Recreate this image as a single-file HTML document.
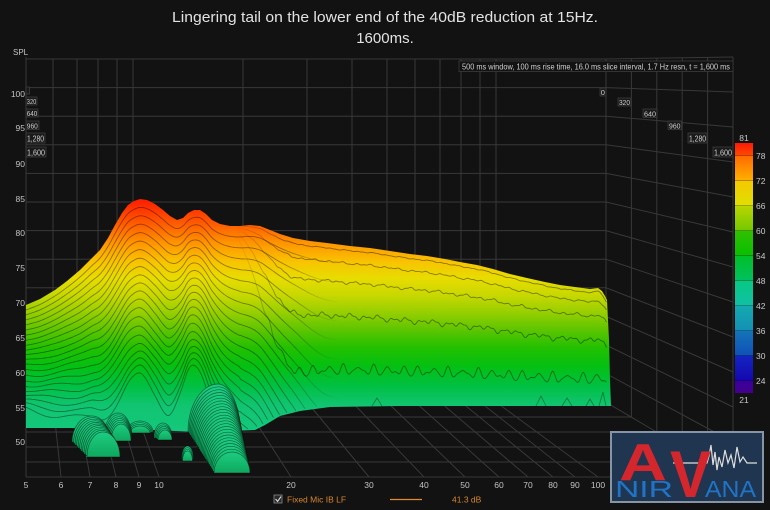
<!DOCTYPE html>
<html><head><meta charset="utf-8"><style>
html,body{margin:0;padding:0;background:#121212;}
svg{display:block;}
text{font-family:"Liberation Sans",sans-serif;}
</style></head><body>
<svg id="c" width="770" height="510" viewBox="0 0 770 510" xmlns="http://www.w3.org/2000/svg">
<defs>
<linearGradient id="surf" gradientUnits="userSpaceOnUse" x1="0" y1="196" x2="0" y2="476">
<stop offset="0" stop-color="#ff1500"/><stop offset="0.032" stop-color="#ff2a00"/>
<stop offset="0.104" stop-color="#ff6000"/><stop offset="0.175" stop-color="#ff9a00"/>
<stop offset="0.236" stop-color="#f8c400"/><stop offset="0.293" stop-color="#e8dc00"/>
<stop offset="0.354" stop-color="#c8d800"/><stop offset="0.414" stop-color="#98cf00"/>
<stop offset="0.479" stop-color="#5cc500"/><stop offset="0.543" stop-color="#22c000"/>
<stop offset="0.604" stop-color="#05c010"/><stop offset="0.675" stop-color="#00c040"/>
<stop offset="0.746" stop-color="#10c470"/><stop offset="0.836" stop-color="#14c87c"/>
<stop offset="1" stop-color="#10bc74"/>
</linearGradient>
<linearGradient id="lump" x1="0" y1="0" x2="0" y2="1">
<stop offset="0" stop-color="#1ccd80"/><stop offset="1" stop-color="#0ea85e"/>
</linearGradient>
<linearGradient id="cbar" x1="0" y1="0" x2="0" y2="1">
<stop offset="0" stop-color="#ff1808"/><stop offset="0.05" stop-color="#ff4a00"/>
<stop offset="0.052" stop-color="#ff6a00"/><stop offset="0.15" stop-color="#ffb000"/>
<stop offset="0.152" stop-color="#f4c800"/><stop offset="0.25" stop-color="#e0e000"/>
<stop offset="0.252" stop-color="#b8d600"/><stop offset="0.35" stop-color="#74c800"/>
<stop offset="0.352" stop-color="#30c000"/><stop offset="0.45" stop-color="#08c000"/>
<stop offset="0.452" stop-color="#00c028"/><stop offset="0.55" stop-color="#00c060"/>
<stop offset="0.552" stop-color="#08c884"/><stop offset="0.65" stop-color="#10c0a4"/>
<stop offset="0.652" stop-color="#14aab0"/><stop offset="0.75" stop-color="#1490b4"/>
<stop offset="0.752" stop-color="#1474b8"/><stop offset="0.85" stop-color="#1050b8"/>
<stop offset="0.852" stop-color="#1424c0"/><stop offset="0.95" stop-color="#1408b0"/>
<stop offset="0.952" stop-color="#3a009c"/><stop offset="1" stop-color="#44008e"/>
</linearGradient>
<linearGradient id="fadeL" gradientUnits="userSpaceOnUse" x1="280" y1="0" x2="340" y2="0">
<stop offset="0" stop-color="#000" stop-opacity="0.42"/><stop offset="1" stop-color="#000" stop-opacity="0"/>
</linearGradient>
<linearGradient id="fadeR" gradientUnits="userSpaceOnUse" x1="235" y1="0" x2="285" y2="0">
<stop offset="0" stop-color="#000" stop-opacity="0"/><stop offset="1" stop-color="#000" stop-opacity="0.45"/>
</linearGradient>
</defs>

<rect width="770" height="510" fill="#121212"/>

<!-- Title -->
<text x="385" y="22" text-anchor="middle" font-size="15" fill="#e2e2e2" textLength="426" lengthAdjust="spacingAndGlyphs">Lingering tail on the lower end of the 40dB reduction at 15Hz.</text>
<text x="385" y="43" text-anchor="middle" font-size="15" fill="#e2e2e2">1600ms.</text>

<!-- Grid -->
<g stroke="#383838" stroke-width="1" fill="none">
<path d="M26,59H606L733,57 M26,87.6H606L733,92 M26,116.2H606L733,127 M26,144.8H606L733,162 M26,173.4H606L733,197 M26,202H606L733,232 M26,230.6H606L733,267 M26,259.2H606L733,302 M26,287.8H606L733,337 M26,316.4H606L733,372 M26,345H606L733,407 M26,373.6H606L733,442 M26,402.2H606L733,477"/>
<path d="M26,57V477 M53,59V402 M77,59V402 M98,59V402 M117,59V402 M133,59V402 M243,59V402 M307,59V402 M352,59V402 M387,59V402 M415,59V402 M440,59V402 M461,59V402 M480,59V402 M496,59V402 M606,59V402"/>
<path d="M631.4,58.6V417 M656.8,58.2V432 M682.2,57.8V447 M707.6,57.4V462 M733,57V477"/>
<path d="M26,417H631.4 M26,432H656.8 M26,447H682.2 M26,462H707.6 M26,477H733"/>
<path d="M53,402L61,477 M77,402L90,477 M98,402L116,477 M117,402L139,477 M133,402L159,477 M243,402L291,477 M307,402L369,477 M352,402L424,477 M387,402L465,477 M415,402L499,477 M440,402L528,477 M461,402L553,477 M480,402L575,477 M496,402L598,477"/>
</g>

<!-- Main surface body -->
<polygon fill="url(#surf)" points="26,305 40,299 55,290 67,281 80,270 92,258 100,250 108,238 115,225 122,213 128,205 134,201 140,199 147,200 155,204 163,210 170,216 177,220 183,218 188,213 194,210 200,210 206,214 212,220 220,224 230,226 240,226 250,225 260,226 270,230 280,234 293,238 310,241 327,243 350,246 370,248 390,251 410,254 427,256 445,259 460,262 477,265 493,269 510,274 527,278 545,282 560,285 575,287 590,289 598,288 602,291 605,296 607,300 609,340 610,380 611,406 400,406 330,407 300,411 280,416 265,425 255,430 230,431 200,432 175,431 130,429 70,428 26,428"/>

<g id="lines"></g>
<path d="M372,406L377,398L382,406 M536,406L541,396L546,406 M562,406L567,398L572,406 M586,406L590,399L594,406 M599,406L603,392L606,406" fill="none" stroke="#000" stroke-opacity="0.4" stroke-width="0.8"/>

<!-- static lump silhouettes (fallback) -->
<g fill="url(#lump)">
<path d="M104,437 A14,24 0 0 1 118,413 A14,24 0 0 1 132,437 Z"/>
<path d="M72,442 A20,26 0 0 1 92,416 A18,26 0 0 1 110,442 Z"/>
<path d="M86,457 A17,25 0 0 1 103,432 A17,25 0 0 1 120,457 Z"/>
<path d="M127,432 A13,11 0 0 1 140,421 A13,11 0 0 1 153,432 Z"/>
<path d="M154,438 A9,15 0 0 1 163,423 A9,15 0 0 1 172,438 Z"/>
<path d="M181.5,459 A6,13 0 0 1 187.5,446 A6,13 0 0 1 193.5,459 Z"/>
<path d="M188,432 A30,48 0 0 1 218,384 A22,48 0 0 1 240,432 Z"/>
<path d="M201,452 A24,36 0 0 1 225,416 A20,36 0 0 1 245,452 Z"/>
<path d="M214,473 A18,21 0 0 1 232,452 A18,21 0 0 1 250,473 Z"/>
</g>
<g id="lumps"></g>

<!-- Y axis labels -->
<text x="13" y="55" font-size="8" fill="#c4c4c4" text-anchor="start">SPL</text>
<g font-size="8.5" fill="#c4c4c4" text-anchor="end">
<text x="25" y="97">100</text><text x="25" y="131">95</text><text x="25" y="167">90</text>
<text x="25" y="202">85</text><text x="25" y="236">80</text><text x="25" y="271">75</text>
<text x="25" y="306">70</text><text x="25" y="341">65</text><text x="25" y="376">60</text>
<text x="25" y="411">55</text><text x="25" y="445">50</text>
</g>

<!-- X axis labels -->
<g font-size="8.5" fill="#c4c4c4" text-anchor="middle">
<text x="26" y="488">5</text><text x="61" y="488">6</text><text x="90" y="488">7</text>
<text x="116" y="488">8</text><text x="139" y="488">9</text><text x="159" y="488">10</text>
<text x="291" y="488">20</text><text x="369" y="488">30</text><text x="424" y="488">40</text>
<text x="465" y="488">50</text><text x="499" y="488">60</text><text x="528" y="488">70</text>
<text x="553" y="488">80</text><text x="575" y="488">90</text><text x="598" y="488">100</text>
</g>

<!-- time labels left -->
<g font-size="7.5" fill="#cfcfcf">
<rect x="26" y="87" width="3.5" height="7" fill="#1a1a1a" stroke="#3c3c3c" stroke-width="0.8"/>
<rect x="26" y="97" width="11" height="8" fill="#1a1a1a" stroke="#3c3c3c" stroke-width="0.8"/><text x="26.8" y="104" textLength="9.5" lengthAdjust="spacingAndGlyphs">320</text>
<rect x="26" y="109" width="12" height="8" fill="#1a1a1a" stroke="#3c3c3c" stroke-width="0.8"/><text x="26.8" y="116" textLength="10.5" lengthAdjust="spacingAndGlyphs">640</text>
<rect x="26" y="121" width="13" height="8.5" fill="#1a1a1a" stroke="#3c3c3c" stroke-width="0.8"/><text x="26.8" y="128.5" textLength="11" lengthAdjust="spacingAndGlyphs">960</text>
<rect x="26" y="133" width="19" height="10" fill="#1a1a1a" stroke="#3c3c3c" stroke-width="0.8"/><text x="27" y="141.5" font-size="8.5" textLength="17" lengthAdjust="spacingAndGlyphs">1,280</text>
<rect x="26" y="147" width="20" height="10" fill="#1a1a1a" stroke="#3c3c3c" stroke-width="0.8"/><text x="27" y="155.5" font-size="8.5" textLength="18" lengthAdjust="spacingAndGlyphs">1,600</text>
</g>
<!-- time labels right -->
<g font-size="7.5" fill="#cfcfcf">
<rect x="600" y="88" width="6" height="8" fill="#1a1a1a" stroke="#3c3c3c" stroke-width="0.8"/><text x="600.8" y="95">0</text>
<rect x="618" y="98" width="13" height="8" fill="#1a1a1a" stroke="#3c3c3c" stroke-width="0.8"/><text x="619" y="105" textLength="11" lengthAdjust="spacingAndGlyphs">320</text>
<rect x="643" y="109" width="14" height="8.5" fill="#1a1a1a" stroke="#3c3c3c" stroke-width="0.8"/><text x="644" y="116.5" textLength="12" lengthAdjust="spacingAndGlyphs">640</text>
<rect x="668" y="121" width="13.5" height="8.5" fill="#1a1a1a" stroke="#3c3c3c" stroke-width="0.8"/><text x="669" y="128.5" textLength="11.5" lengthAdjust="spacingAndGlyphs">960</text>
<rect x="688" y="133" width="19" height="10" fill="#1a1a1a" stroke="#3c3c3c" stroke-width="0.8"/><text x="689" y="141.5" font-size="8.5" textLength="17" lengthAdjust="spacingAndGlyphs">1,280</text>
<rect x="713" y="147" width="20" height="10" fill="#1a1a1a" stroke="#3c3c3c" stroke-width="0.8"/><text x="714" y="155.5" font-size="8.5" textLength="18" lengthAdjust="spacingAndGlyphs">1,600</text>
</g>

<!-- annotation -->
<rect x="459" y="61" width="274" height="10.5" fill="#121212" stroke="#3c3c3c" stroke-width="0.8"/>
<text x="462" y="69.3" font-size="8.3" fill="#cfcfcf" textLength="268" lengthAdjust="spacingAndGlyphs">500 ms window, 100 ms rise time, 16.0 ms slice interval, 1.7 Hz resn, t = 1,600 ms</text>

<!-- colour bar -->
<rect x="735" y="143" width="18" height="250" fill="url(#cbar)"/>
<path d="M735,155.5H753 M735,180.5H753 M735,205.5H753 M735,230.5H753 M735,255.5H753 M735,280.5H753 M735,305.5H753 M735,330.5H753 M735,355.5H753 M735,380.5H753" stroke="#000" stroke-opacity="0.35" stroke-width="0.8"/>
<g font-size="8.5" fill="#c8c8c8">
<text x="744" y="141" text-anchor="middle">81</text>
<text x="756" y="159">78</text><text x="756" y="184">72</text><text x="756" y="209">66</text>
<text x="756" y="234">60</text><text x="756" y="259">54</text><text x="756" y="284">48</text>
<text x="756" y="309">42</text><text x="756" y="334">36</text><text x="756" y="359">30</text>
<text x="756" y="384">24</text>
<text x="744" y="403" text-anchor="middle">21</text>
</g>

<!-- legend -->
<rect x="274" y="495" width="8" height="8" fill="#2a2a2a" stroke="#8a8a8a" stroke-width="0.8"/>
<path d="M275.6,499 L277.6,501.4 L281,496.6" fill="none" stroke="#e8e8e8" stroke-width="1"/>
<text x="287" y="502.5" font-size="8.5" fill="#d8862e">Fixed Mic IB LF</text>
<line x1="390" y1="499.5" x2="422" y2="499.5" stroke="#e08a2c" stroke-width="1.2"/>
<text x="452" y="502.5" font-size="8.5" fill="#d8862e">41.3 dB</text>

<!-- logo -->
<rect x="611" y="432" width="152" height="70" fill="#203650" stroke="#8595a6" stroke-width="2"/>
<polyline points="673,463 707,463 709,456 711,445 713,465 715,452 717,470 719,457 722,467 725,450 728,463 731,455 734,468 737,447 740,462 743,457 747,463 757,463" fill="none" stroke="#dedede" stroke-width="1.2"/>
<text x="619" y="480" font-size="52" font-weight="bold" fill="#d3262d" textLength="48" lengthAdjust="spacingAndGlyphs">A</text>
<text x="670" y="497" font-size="66" font-weight="bold" fill="#d3262d" textLength="41" lengthAdjust="spacingAndGlyphs">V</text>
<text x="615" y="497" font-size="23" fill="#1f74c8" textLength="58" lengthAdjust="spacingAndGlyphs">NIR</text>
<text x="705" y="497" font-size="23" fill="#1f74c8" textLength="51" lengthAdjust="spacingAndGlyphs">ANA</text>
</svg>

<script>
(function(){
var NS='http://www.w3.org/2000/svg';
function spline(pts){
  return function(x){
    var n=pts.length;
    if(x<=pts[0][0]) return pts[0][1];
    if(x>=pts[n-1][0]) return pts[n-1][1];
    var i=0; while(x>pts[i+1][0]) i++;
    var x0=pts[i][0],x1=pts[i+1][0],y0=pts[i][1],y1=pts[i+1][1];
    var h=x1-x0,t=(x-x0)/h;
    var m0=i>0?(y1-pts[i-1][1])/(x1-pts[i-1][0]):(y1-y0)/h;
    var m1=i+2<n?(pts[i+2][1]-y0)/(pts[i+2][0]-x0):(y1-y0)/h;
    var t2=t*t,t3=t2*t;
    return (2*t3-3*t2+1)*y0+(t3-2*t2+t)*h*m0+(-2*t3+3*t2)*y1+(t3-t2)*h*m1;
  };
}
var T=spline([[26,305],[40,299],[55,290],[67,281],[80,270],[92,258],[100,250],[108,238],[115,225],[122,213],[128,205],[134,201],[140,199],[147,200],[155,204],[163,210],[170,216],[177,220],[183,218],[188,213],[194,210],[200,210],[206,214],[212,220],[220,224],[230,226],[240,226],[250,225],[260,226],[270,230],[280,234],[293,238],[310,241],[327,243],[350,246],[370,248],[390,251],[410,254],[427,256],[445,259],[460,262],[477,265],[493,269],[510,274],[527,278],[545,282],[560,285],[575,287],[590,289],[598,288],[602,291],[605,296],[607,300]]);
var B=spline([[26,428],[70,428],[130,429],[175,431],[200,432],[230,431],[255,430],[265,425],[280,416],[300,411],[330,407],[400,406],[611,406]]);
var A=spline([[26,110],[60,135],[90,165],[115,190],[140,185],[155,200],[168,208],[180,182],[190,165],[200,172],[212,195],[225,220],[240,240],[260,265],[290,330],[330,420],[620,420]]);
function sm(a,b,x){var t=Math.max(0,Math.min(1,(x-a)/(b-a)));return t*t*(3-2*t);}
var g=document.getElementById('lines');
function mk(par,d,stroke,w){var p=document.createElementNS(NS,'path');p.setAttribute('d',d);p.setAttribute('fill','none');p.setAttribute('stroke',stroke);p.setAttribute('stroke-width',w);par.appendChild(p);return p;}
var N=22,k,x;
for(k=1;k<N;k++){
  var f=k/N,d='',pen=false;
  for(x=26;x<=345;x+=1.5){
    var y=T(x)+A(x)*f+(x<240?f*f*3*Math.sin(x*0.11+k*0.7):0);
    var b=B(x);
    if(y<b-0.6){d+=(pen?'L':'M')+x.toFixed(1)+','+y.toFixed(1);pen=true;}else pen=false;
  }
  if(d) mk(g,d,'url(#fadeL)',0.85);
}
var G=[0.03,0.11,0.23,0.44,0.79],W=[0.6,1.2,1.8,3.2,4.5];
for(var j=0;j<G.length;j++){
  var d2='';
  for(x=232;x<=607;x+=1.2){
    var t=T(x),bb=B(x),r=sm(225,300,x);
    var nz=0.5*Math.sin(x*0.45+j*1.3)+0.35*Math.sin(x*0.23+j*2.1)+0.3*Math.sin(x*0.91+j*0.4);
    if(j==4) nz=-Math.pow(Math.abs(Math.sin(x*0.21+1.7)),4)*1.6+0.45*Math.sin(x*0.6);
    var yy=t+(bb-t)*G[j]*r+W[j]*r*nz;
    yy=Math.min(yy,bb-0.6);
    d2+=(d2?'L':'M')+x.toFixed(1)+','+yy.toFixed(1);
  }
  mk(g,d2,'url(#fadeR)',0.85);
}
var lg=document.getElementById('lumps');
function lump(n,a,b){
  for(var i=0;i<=n;i++){
    var t=i/n;
    function L(q){return a[q]+(b[q]-a[q])*t;}
    var cx=L(0),top=L(1),base=L(2),rl=L(3),rr=L(4),ry=base-top;
    var d='M'+(cx-rl).toFixed(1)+','+base.toFixed(1)+' A'+rl.toFixed(1)+','+ry.toFixed(1)+' 0 0 1 '+cx.toFixed(1)+','+top.toFixed(1)+' A'+rr.toFixed(1)+','+ry.toFixed(1)+' 0 0 1 '+(cx+rr).toFixed(1)+','+base.toFixed(1)+' Z';
    var p=mk(lg,d,'#000',0.7);
    p.setAttribute('fill','url(#lump)');
    p.setAttribute('stroke-opacity','0.5');
  }
}
lump(3,[140,421,432,13,13],[140,426,433,10,10]);
lump(4,[163,423,437,9,9],[165,430,440,7,7]);
lump(6,[118,413,437,14,14],[121,424,441,10,10]);
lump(10,[92,416,442,20,18],[103,432,457,16,17]);
lump(3,[187.5,446,458,6,6],[187.5,451,461,5,5]);
lump(24,[218,384,432,30,22],[232,452,473,18,18]);
})();
</script>
</body></html>
